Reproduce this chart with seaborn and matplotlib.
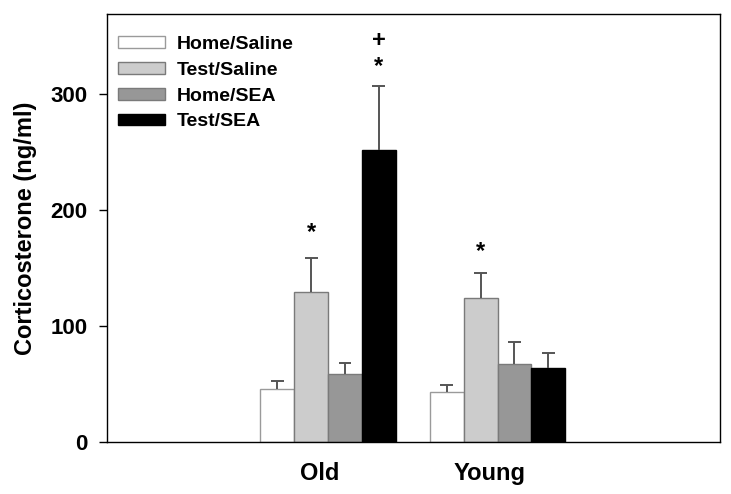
import matplotlib
matplotlib.use("Agg")
import matplotlib.pyplot as plt
import matplotlib.transforms as mtransforms
import numpy as np
import pandas as pd
import seaborn as sns

# --- data ---
groups = ["Old", "Young"]
conditions = ["Home/Saline", "Test/Saline", "Home/SEA", "Test/SEA"]
means_old = [45.5, 129.5, 58.8, 252.0]
means_young = [43.0, 124.0, 67.7, 64.0]
sem_old = [7.2, 29.5, 9.7, 55.0]
sem_young = [6.5, 21.5, 18.2, 12.7]
# significance marks: (group, condition, symbol, offset above error bar)
marks = [
    ("Old", "Test/Saline", "*", 12),
    ("Young", "Test/Saline", "*", 9),
    ("Old", "Test/SEA", "*", 7),
    ("Old", "Test/SEA", "+", 29),
]

colors = ["#ffffff", "#cccccc", "#979797", "#000000"]
edges = ["#9a9a9a", "#7a7a7a", "#7a7a7a", "#000000"]

df = pd.DataFrame({
    "group": np.repeat(groups, len(conditions)),
    "condition": conditions * len(groups),
    "cort": means_old + means_young,
    "sem": sem_old + sem_young,
})

sns.set_theme(style="white")
plt.rcParams["font.family"] = ["Liberation Sans", "DejaVu Sans"]
plt.rcParams["font.weight"] = "bold"
plt.rcParams["text.color"] = "black"
plt.rcParams["axes.labelcolor"] = "black"
plt.rcParams["xtick.color"] = "black"
plt.rcParams["ytick.color"] = "black"

fig = plt.figure(figsize=(7.31, 4.94), dpi=100)
ax = fig.add_axes([0.1464, 0.105, 0.8386, 0.8667])

sns.barplot(data=df, x="group", y="cort", hue="condition",
            order=groups, hue_order=conditions, palette=colors,
            errorbar=None, width=0.8, gap=0, linewidth=1.0,
            saturation=1, ax=ax)

# per-bar edge colours and upper-only error bars
tops = {}
for cont, cond, ec in zip(ax.containers, conditions, edges):
    sub = df[df["condition"] == cond].set_index("group").loc[groups]
    for patch, g in zip(cont, groups):
        patch.set_edgecolor(ec)
        x = patch.get_x() + patch.get_width() / 2
        half = patch.get_width() * 0.19
        m = sub.loc[g, "cort"]
        top = m + sub.loc[g, "sem"]
        ax.vlines(x, m, top, color="#555555", linewidth=1.4, zorder=1)
        ax.hlines(top, x - half, x + half, color="#555555", linewidth=1.4, zorder=1)
        tops[(g, cond)] = (x, top)

for g, cond, sym, off in marks:
    x, top = tops[(g, cond)]
    ax.text(x, top + off, sym, ha="center", va="bottom",
            fontsize=17, fontweight="bold", color="black")

ax.set_xlim(-1.304, 2.313)
ax.set_ylim(0, 369)
ax.set_yticks([0, 100, 200, 300])
ax.set_xlabel("")
ax.set_ylabel("Corticosterone (ng/ml)", fontsize=17, fontweight="bold", labelpad=10)
ax.tick_params(axis="y", which="major", direction="out", length=6, width=1,
               left=True, labelsize=16, pad=8, color="black")
ax.tick_params(axis="x", length=0, labelsize=17, pad=14)
for lab in ax.get_xticklabels() + ax.get_yticklabels():
    lab.set_fontweight("bold")
# category labels sit slightly left of the group centres in the original
shift = mtransforms.ScaledTranslation(-6 / 72, 0, fig.dpi_scale_trans)
for lab in ax.get_xticklabels():
    lab.set_transform(lab.get_transform() + shift)
for sp in ax.spines.values():
    sp.set_visible(True)
    sp.set_color("black")
    sp.set_linewidth(1.0)

leg = ax.legend(loc="upper left", frameon=False, fontsize=14,
                handlelength=2.4, handleheight=0.55, labelspacing=0.45,
                handletextpad=0.6, borderaxespad=0.3,
                bbox_to_anchor=(-0.004, 0.98))
for txt in leg.get_texts():
    txt.set_fontweight("bold")
    txt.set_color("black")
for h, ec in zip(leg.legend_handles, edges):
    h.set_edgecolor(ec)

fig.savefig("out.png", dpi=100)
